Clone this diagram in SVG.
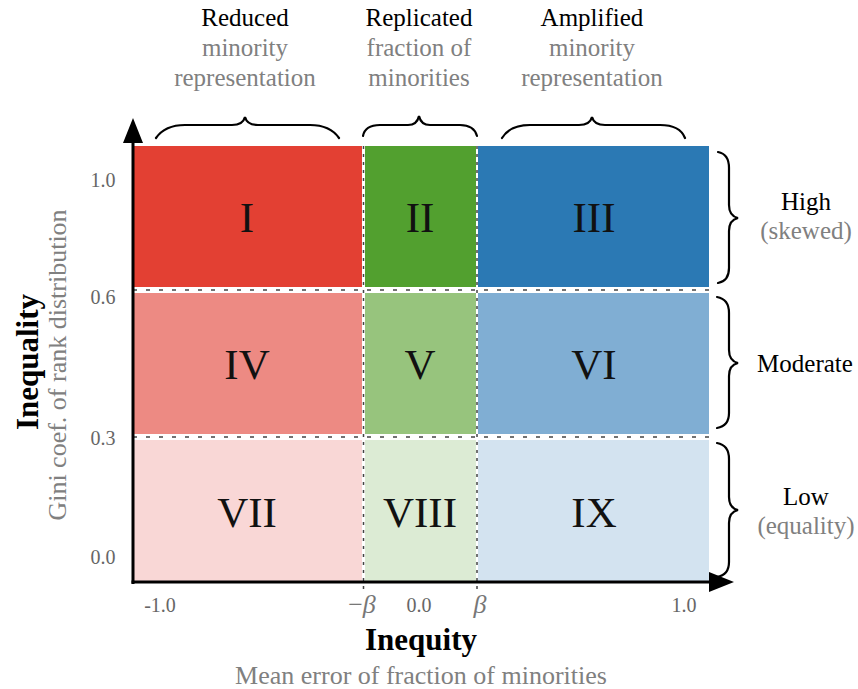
<svg xmlns="http://www.w3.org/2000/svg" width="858" height="689" viewBox="0 0 858 689">
<style>
text{font-family:"Liberation Serif","Times New Roman",serif;text-anchor:middle}
.hd{font-size:25px;fill:#000}
.sub{font-size:25px;fill:#808080}
.num{font-size:43px;fill:#111}
.tick{font-size:20px;fill:#666}
.brace{fill:none;stroke:#000;stroke-width:2.2;stroke-linecap:round}
.dh{stroke:#444;stroke-width:1.5;stroke-dasharray:4 9}
.dv{stroke:#444;stroke-width:1.5;stroke-dasharray:3 5}
</style>
<rect width="858" height="689" fill="#fff"/>
<g id="cells">
<g id="cell-I"><rect x="133" y="146" width="229" height="141" fill="#e34033"/><text class="num" x="247" y="232">I</text></g>
<g id="cell-II"><rect x="365" y="146" width="111" height="141" fill="#52a02f"/><text class="num" x="420" y="232">II</text></g>
<g id="cell-III"><rect x="478" y="146" width="231" height="141" fill="#2b79b4"/><text class="num" x="594" y="232">III</text></g>
<g id="cell-IV"><rect x="133" y="293" width="229" height="141" fill="#ed8a83"/><text class="num" x="247" y="379">IV</text></g>
<g id="cell-V"><rect x="365" y="293" width="111" height="141" fill="#97c47d"/><text class="num" x="420" y="379">V</text></g>
<g id="cell-VI"><rect x="478" y="293" width="231" height="141" fill="#80aed3"/><text class="num" x="594" y="379">VI</text></g>
<g id="cell-VII"><rect x="133" y="440" width="229" height="142" fill="#f9d7d6"/><text class="num" x="247" y="527">VII</text></g>
<g id="cell-VIII"><rect x="365" y="440" width="111" height="142" fill="#dcebd4"/><text class="num" x="420" y="527">VIII</text></g>
<g id="cell-IX"><rect x="478" y="440" width="231" height="142" fill="#d3e3f0"/><text class="num" x="594" y="527">IX</text></g>
</g>
<g id="connectors">
<line class="dh" x1="133" y1="290" x2="709" y2="290"/>
<line class="dh" x1="133" y1="437" x2="709" y2="437"/>
<line class="dv" x1="363.5" y1="146" x2="363.5" y2="592"/>
<line class="dv" x1="477" y1="146" x2="477" y2="592"/>
<line x1="133" y1="584" x2="133" y2="140" stroke="#000" stroke-width="3"/>
<polygon points="133,118 123,143 143,143" fill="#000"/>
<line x1="131.5" y1="582" x2="712" y2="582" stroke="#000" stroke-width="3"/>
<polygon points="734,582 709,572 709,592" fill="#000"/>
<path class="brace" d="M156,138 Q165,125 185,125 L232,125 Q243,125 245,117 Q247,125 258,125 L310,125 Q330,125 339,138"/>
<path class="brace" d="M363,136 Q365,125 380,125 L408,125 Q417,125 419,116 Q421,125 430,125 L460,125 Q474,125 477,136"/>
<path class="brace" d="M502,138 Q510,125 530,125 L579,125 Q590,125 592,117 Q594,125 605,125 L660,125 Q680,125 685,138"/>
<path class="brace" d="M718,152 Q729,154 729,168 L729,205 Q729,216 738,218 Q729,220 729,231 L729,268 Q729,281 718,283"/>
<path class="brace" d="M717,297 Q729,299 729,313 L729,350 Q729,361 738,363 Q729,365 729,376 L729,413 Q729,426 717,428"/>
<path class="brace" d="M717,443 Q729,445 729,459 L729,497 Q729,508 738,510 Q729,512 729,523 L729,562 Q729,575 717,577"/>
</g>
<g id="top-labels">
<text class="hd" x="245" y="26">Reduced</text>
<text class="sub" x="245" y="56">minority</text>
<text class="sub" x="245" y="86">representation</text>
<text class="hd" x="419" y="26">Replicated</text>
<text class="sub" x="419" y="56">fraction of</text>
<text class="sub" x="419" y="86">minorities</text>
<text class="hd" x="592" y="26">Amplified</text>
<text class="sub" x="592" y="56">minority</text>
<text class="sub" x="592" y="86">representation</text>
</g>
<g id="right-labels">
<text class="hd" x="806" y="210">High</text>
<text class="sub" x="806" y="239">(skewed)</text>
<text class="hd" x="805" y="372">Moderate</text>
<text class="hd" x="806" y="505">Low</text>
<text class="sub" x="806" y="534">(equality)</text>
</g>
<g id="y-ticks">
<text class="tick" x="103" y="187">1.0</text>
<text class="tick" x="103" y="304">0.6</text>
<text class="tick" x="103" y="445">0.3</text>
<text class="tick" x="103" y="564">0.0</text>
</g>
<g id="x-ticks">
<text class="tick" x="160" y="612">-1.0</text>
<text class="tick" x="419" y="612">0.0</text>
<text class="tick" x="684" y="612">1.0</text>
<text x="362" y="613" style="font-size:26px;fill:#777"><tspan>−</tspan><tspan font-style="italic">β</tspan></text>
<text x="480" y="613" style="font-size:26px;fill:#777;font-style:italic">β</text>
</g>
<g id="axis-titles">
<text x="421" y="650" style="font-size:31px;font-weight:bold;fill:#000">Inequity</text>
<text class="sub" x="421" y="684" style="font-size:26px">Mean error of fraction of minorities</text>
<text transform="translate(38,362) rotate(-90)" style="font-size:31px;font-weight:bold;fill:#000">Inequality</text>
<text transform="translate(66,365) rotate(-90)" class="sub" style="font-size:26px">Gini coef. of rank distribution</text>
</g>
</svg>
